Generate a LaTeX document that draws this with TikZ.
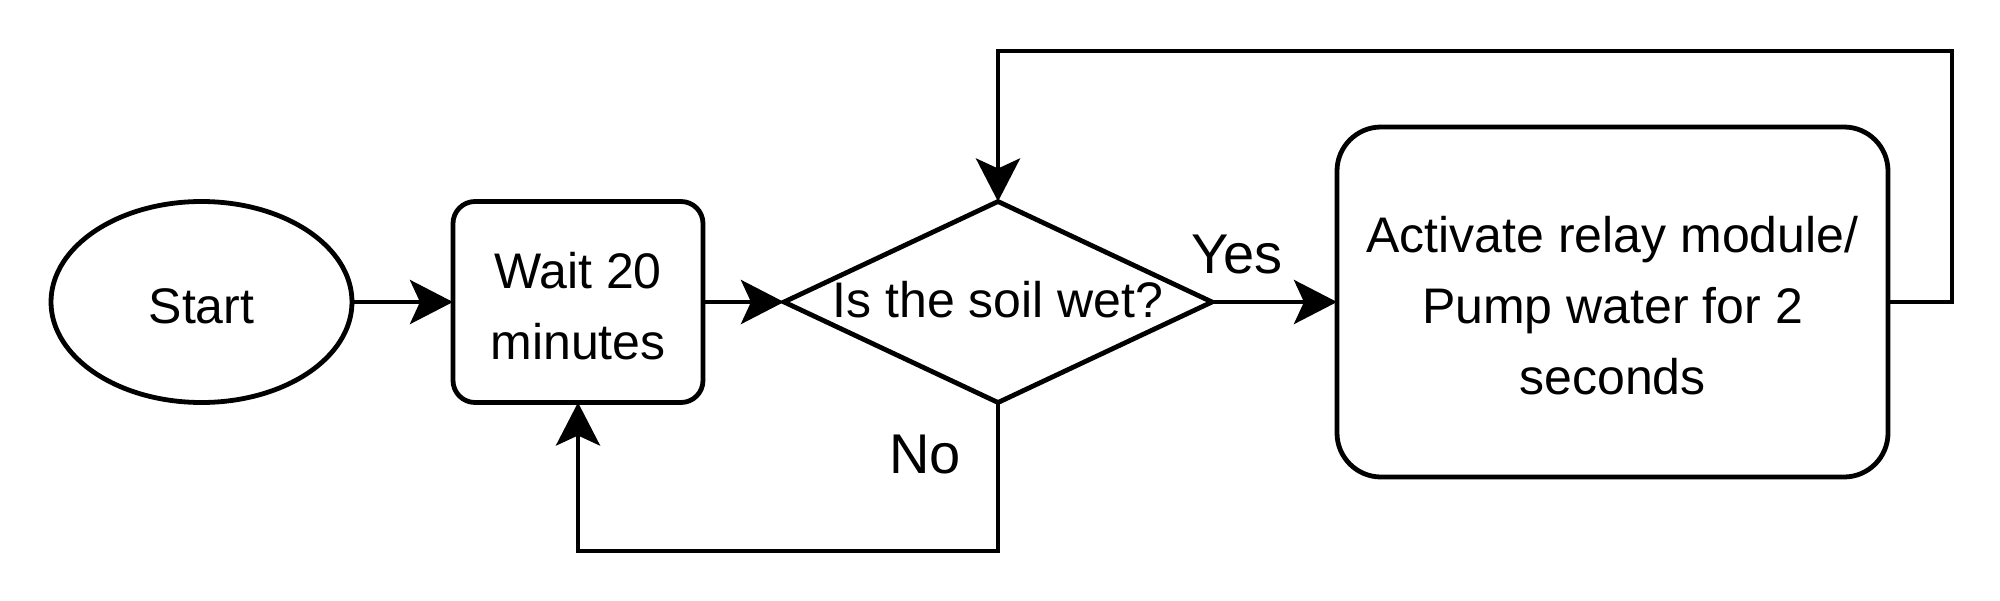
\documentclass[tikz,border=0pt]{standalone}
\usepackage{fontspec}
\setmainfont{Liberation Sans}
\usetikzlibrary{shapes.geometric,arrows.meta}
\begin{document}
\begin{tikzpicture}[x=1pt,y=-1pt,
  base/.style={draw=black, line width=4.8pt, inner sep=0pt, outer sep=0pt},
  txt/.style={font=\fontsize{50}{71}\selectfont, align=center, inner sep=0pt},
  startshape/.style={base, ellipse, minimum width=301pt, minimum height=201pt},
  stepbox/.style={base, rectangle, rounded corners=22pt},
  decshape/.style={base, diamond, minimum width=428pt, minimum height=201pt},
  lbl/.style={inner sep=0pt, font=\fontsize{56}{60}\selectfont},
  arr/.style={line width=4.8pt, -{Stealth[length=43pt, width=44pt, inset=10pt]}}]
\useasboundingbox (0,0) rectangle (2000,600);
\node[startshape, label={[txt, name=starttext, yshift=-4pt]center:Start}] (start) at (201.5,302) {};
\node[stepbox, minimum width=250pt, minimum height=201pt, label={[txt, name=waittext, yshift=-4pt]center:Wait 20\\minutes}] (wait) at (578,302) {};
\node[decshape, label={[txt, name=dectext, yshift=2pt]center:Is the soil wet?}] (dec) at (998,302) {};
\node[stepbox, rounded corners=44pt, minimum width=551pt, minimum height=350pt, label={[txt, name=acttext, yshift=-4pt]center:Activate relay module/\\Pump water for 2\\seconds}] (act) at (1612.5,302) {};
\coordinate (tr) at (1952,51);
\coordinate (bl) at (578,551);
\node[lbl] (yes) at (1237,255) {Yes};
\node[lbl] (no) at (925,455) {No};
\draw[arr] (start) -- (wait);
\draw[arr] (wait) -- (dec);
\draw[arr] (dec) -- (act);
\draw[arr] (act.east) -| (tr) -| (dec.north);
\draw[arr] (dec.south) |- (bl) -- (wait.south);
\end{tikzpicture}
\end{document}
